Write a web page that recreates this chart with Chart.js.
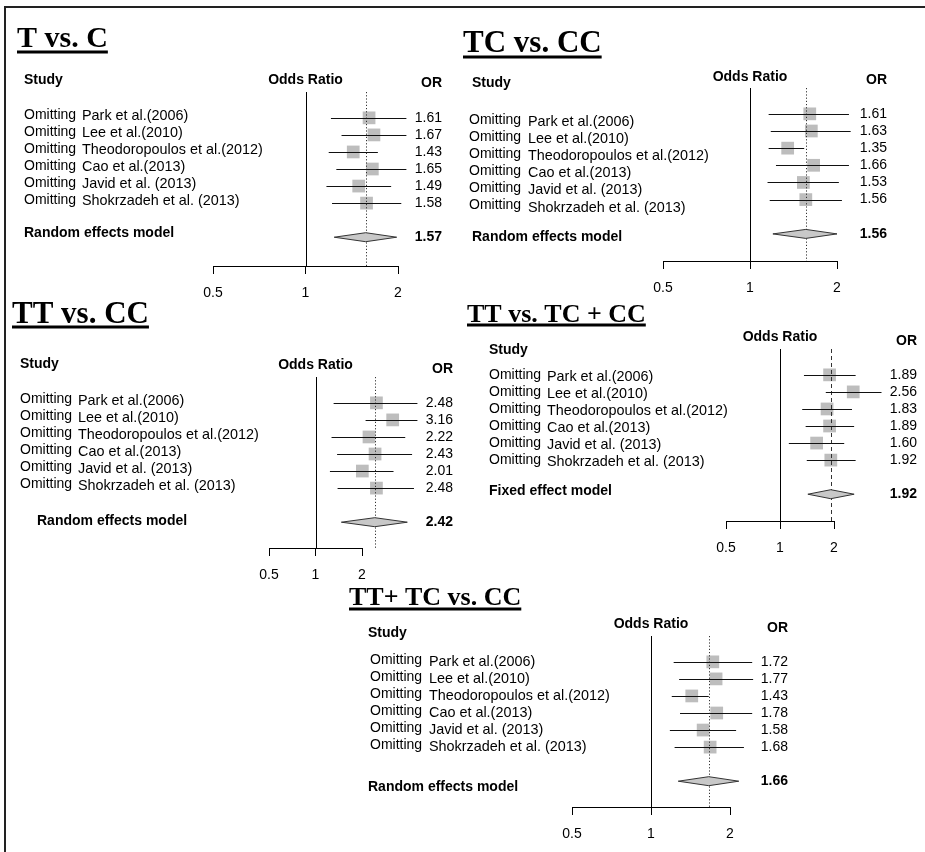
<!DOCTYPE html>
<html><head><meta charset="utf-8">
<script src="https://cdn.jsdelivr.net/npm/chart.js@4.4.0/dist/chart.umd.min.js"></script>
<style>
html,body{margin:0;padding:0;background:#fff;}
#wrap{position:relative;width:925px;height:852px;overflow:hidden;background:#fff;}
#frame{position:absolute;left:4px;top:6px;width:925px;height:852px;border-top:2px solid #222;border-left:2px solid #222;}
canvas{position:absolute;left:0;top:0;}
</style></head><body>
<div id="wrap"><div id="frame"></div>
<canvas id="c1" width="925" height="852"></canvas>
<canvas id="c2" width="925" height="852"></canvas>
<canvas id="c3" width="925" height="852"></canvas>
<canvas id="c4" width="925" height="852"></canvas>
<canvas id="c5" width="925" height="852"></canvas>
</div>
<script>
// ---------- DATA ----------
const studies = ['Park et al.(2006)','Lee et al.(2010)','Theodoropoulos et al.(2012)','Cao et al.(2013)','Javid et al. (2013)','Shokrzadeh et al. (2013)'];
const omitWord = 'Omitting';
const tickValues = [0.5, 1, 2];
const tickLabels = ['0.5', '1', '2'];

// T vs. C
const orTC1 = [1.61, 1.67, 1.43, 1.65, 1.49, 1.58];
const loTC1 = [1.21, 1.31, 1.19, 1.26, 1.17, 1.22];
const hiTC1 = [2.13, 2.13, 1.72, 2.13, 1.90, 2.05];
const pooledTC1 = [1.57, 1.24, 1.98];

// TC vs. CC
const orHet = [1.61, 1.63, 1.35, 1.66, 1.53, 1.56];
const loHet = [1.16, 1.18, 1.16, 1.23, 1.15, 1.17];
const hiHet = [2.20, 2.23, 1.54, 2.20, 2.03, 2.08];
const pooledHet = [1.56, 1.20, 2.00];

// TT vs. CC
const orHom = [2.48, 3.16, 2.22, 2.43, 2.01, 2.48];
const loHom = [1.31, 2.11, 1.27, 1.38, 1.24, 1.39];
const hiHom = [4.57, 4.57, 3.81, 4.22, 3.20, 4.34];
const pooledHom = [2.42, 1.47, 3.93];

// TT vs. TC + CC
const orRec = [1.89, 2.56, 1.83, 1.89, 1.60, 1.92];
const loRec = [1.36, 1.80, 1.33, 1.39, 1.12, 1.41];
const hiRec = [2.64, 3.68, 2.52, 2.59, 2.28, 2.64];
const pooledRec = [1.92, 1.43, 2.59];

// TT+ TC vs. CC
const orDom = [1.72, 1.77, 1.43, 1.78, 1.58, 1.68];
const loDom = [1.22, 1.28, 1.20, 1.29, 1.18, 1.23];
const hiDom = [2.43, 2.45, 1.66, 2.43, 2.11, 2.26];
const pooledDom = [1.66, 1.27, 2.16];

// ---------- PANELS (layout) ----------
const panels = [
  {id:'c1', title:'T vs. C', model:'Random effects model', fixed:false, or:orTC1, lo:loTC1, hi:hiTC1, pooled:pooledTC1,
   L:{x05:213, x2:398, top:92, axis:267, row1:118, step:17.15, titleX:17, titleY:47, titleSize:30, ulY:52,
      studyX:24, studyY:80, oddsY:80, orHeadX:442, orHeadY:83, omitX:24, nameX:82, omitDy:-3, nameDy:-2, modelX:24, modelDy:-4, valX:442}},
  {id:'c2', title:'TC vs. CC', model:'Random effects model', fixed:false, or:orHet, lo:loHet, hi:hiHet, pooled:pooledHet,
   L:{x05:663, x2:837, top:88, axis:262, row1:114, step:17.25, titleX:463, titleY:52, titleSize:31, ulY:57,
      studyX:472, studyY:83, oddsY:77, orHeadX:887, orHeadY:80, omitX:469, nameX:528, omitDy:6, nameDy:8, modelX:472, modelDy:3, valX:887}},
  {id:'c3', title:'TT vs. CC', model:'Random effects model', fixed:false, or:orHom, lo:loHom, hi:hiHom, pooled:pooledHom,
   L:{x05:269, x2:362, top:377, axis:549, row1:403, step:17.15, titleX:12, titleY:323, titleSize:31, ulY:327,
      studyX:20, studyY:364, oddsY:365, orHeadX:453, orHeadY:369, omitX:20, nameX:78, omitDy:-4, nameDy:-2, modelX:37, modelDy:-1, valX:453}},
  {id:'c4', title:'TT vs. TC + CC', model:'Fixed effect model', fixed:true, or:orRec, lo:loRec, hi:hiRec, pooled:pooledRec,
   L:{x05:726, x2:834, top:349, axis:522, row1:375, step:17.15, titleX:467, titleY:322, titleSize:26, ulY:325,
      studyX:489, studyY:350, oddsY:337, orHeadX:917, orHeadY:341, omitX:489, nameX:547, omitDy:0, nameDy:2, modelX:489, modelDy:-3, valX:917}},
  {id:'c5', title:'TT+ TC vs. CC', model:'Random effects model', fixed:false, or:orDom, lo:loDom, hi:hiDom, pooled:pooledDom,
   L:{x05:572, x2:730, top:636, axis:808, row1:662, step:17.15, titleX:349, titleY:605, titleSize:26, ulY:609,
      studyX:368, studyY:633, oddsY:624, orHeadX:788, orHeadY:628, omitX:370, nameX:429, omitDy:-2, nameDy:0, modelX:368, modelDy:6, valX:788}}
];

const SANS = '"Liberation Sans", Arial, Helvetica, sans-serif';
const SERIF = '"Liberation Serif", "Times New Roman", Times, serif';
const W = 925, H = 852;

function forestPlugin(p){
  return {
    id:'forest_'+p.id,
    afterDatasetsDraw(chart){
      const c = chart.ctx, xs = chart.scales.x, ys = chart.scales.y, ca = chart.chartArea;
      c.save();
      // axis line from first to last tick
      const ya = Math.round(ca.bottom) + 0.5;
      c.strokeStyle = '#000'; c.lineWidth = 1; c.setLineDash([]);
      c.beginPath();
      c.moveTo(Math.round(xs.getPixelForValue(tickValues[0])), ya);
      c.lineTo(Math.round(xs.getPixelForValue(tickValues[tickValues.length - 1])) + 1, ya);
      c.stroke();
      // no-effect line
      const x1 = Math.round(xs.getPixelForValue(1)) + 0.5;
      c.beginPath(); c.moveTo(x1, ca.top); c.lineTo(x1, ca.bottom); c.stroke();
      // pooled reference line
      const xr = Math.round(xs.getPixelForValue(p.pooled[0])) + 0.5;
      c.strokeStyle = '#333';
      c.setLineDash(p.fixed ? [4,3] : [1.2,2]);
      c.beginPath(); c.moveTo(xr, ca.top); c.lineTo(xr, ca.bottom); c.stroke();
      c.setLineDash([]);
      // CI lines
      c.strokeStyle = '#111';
      p.lo.forEach((lo, i) => {
        const y = Math.round(ys.getPixelForValue(i + 1)) + 0.5;
        c.beginPath();
        c.moveTo(xs.getPixelForValue(lo), y);
        c.lineTo(xs.getPixelForValue(p.hi[i]), y);
        c.stroke();
      });
      // diamond
      const yd = ys.getPixelForValue(studies.length + 2);
      const h = 4.5;
      c.beginPath();
      c.moveTo(xs.getPixelForValue(p.pooled[1]), yd);
      c.lineTo(xs.getPixelForValue(p.pooled[0]), yd - h);
      c.lineTo(xs.getPixelForValue(p.pooled[2]), yd);
      c.lineTo(xs.getPixelForValue(p.pooled[0]), yd + h);
      c.closePath();
      c.fillStyle = '#c8c8c8'; c.fill();
      c.strokeStyle = '#333'; c.lineWidth = 1; c.stroke();
      c.restore();
    },
    afterDraw(chart){
      const c = chart.ctx, xs = chart.scales.x, ys = chart.scales.y, L = p.L;
      c.save();
      c.fillStyle = '#000';
      // title
      c.font = 'bold ' + L.titleSize + 'px ' + SERIF;
      c.textAlign = 'left'; c.textBaseline = 'alphabetic';
      c.fillText(p.title, L.titleX, L.titleY);
      const tw = c.measureText(p.title).width;
      c.fillRect(L.titleX, L.ulY - 1.5, tw, 3);
      // headers
      c.font = 'bold 14px ' + SANS;
      c.textBaseline = 'middle';
      c.textAlign = 'left';
      c.fillText('Study', L.studyX, L.studyY);
      c.textAlign = 'center';
      c.fillText('Odds Ratio', xs.getPixelForValue(1), L.oddsY);
      c.textAlign = 'right';
      c.fillText('OR', L.orHeadX, L.orHeadY);
      // rows
      studies.forEach((s, i) => {
        const y = ys.getPixelForValue(i + 1);
        c.textAlign = 'left';
        c.font = '14px ' + SANS;
        c.fillText(omitWord, L.omitX, y + L.omitDy);
        c.font = '14.4px ' + SANS;
        c.fillText(s, L.nameX, y + L.nameDy);
        c.font = '14px ' + SANS;
        c.textAlign = 'right';
        c.fillText(p.or[i].toFixed(2), L.valX, y);
      });
      // model row
      const yd = ys.getPixelForValue(studies.length + 2);
      c.font = 'bold 14px ' + SANS;
      c.textAlign = 'left';
      c.fillText(p.model, L.modelX, yd + L.modelDy);
      c.textAlign = 'right';
      c.fillText(p.pooled[0].toFixed(2), L.valX, yd);
      c.restore();
    }
  };
}

function makeChart(p){
  const L = p.L;
  const yMin = 1 - (L.row1 - L.top) / L.step;
  const yMax = 1 + (L.axis - L.row1) / L.step;
  const tickLen = 8, tickPad = 11, fs = 14;
  // height Chart.js reserves for the bottom axis (tick padding is counted twice)
  const axisH = tickLen + 2 * tickPad + fs * 1.2 - 1;
  const xMin = tickValues[0], xTop = tickValues[tickValues.length - 1];
  const xMax = Math.max(...p.hi, p.pooled[2]) * 1.1;
  const rightPx = L.x05 + (L.x2 - L.x05) * Math.log(xMax / xMin) / Math.log(xTop / xMin);
  const pts = p.or.map((v, i) => ({x: v, y: i + 1}));
  new Chart(document.getElementById(p.id), {
    type: 'scatter',
    data: { datasets: [
      { data: pts, pointStyle: 'rect', pointRadius: 9, pointBackgroundColor: '#bdbdbd', pointBorderWidth: 0, clip: false },
      { data: pts, pointStyle: 'line', pointRotation: 90, pointRadius: 2.5, pointBorderColor: '#000', pointBorderWidth: 1, clip: false }
    ]},
    options: {
      responsive: false, animation: false, events: [],
      layout: { padding: { left: L.x05, right: W - rightPx, top: L.top, bottom: H - L.axis - axisH } },
      plugins: { legend: { display: false }, tooltip: { enabled: false } },
      scales: {
        x: {
          type: 'logarithmic', min: xMin, max: xMax,
          afterBuildTicks: (s) => { s.ticks = tickValues.map(v => ({ value: v })); },
          ticks: { callback: (v, i) => tickLabels[i], color: '#000', font: { family: SANS, size: fs }, padding: tickPad, maxRotation: 0, autoSkip: false },
          grid: { drawOnChartArea: false, drawTicks: true, tickLength: tickLen, color: '#000', lineWidth: 1 },
          border: { display: false }
        },
        y: { display: false, min: yMin, max: yMax, reverse: true }
      }
    },
    plugins: [forestPlugin(p)]
  });
}

panels.forEach(makeChart);
</script>
</body></html>
